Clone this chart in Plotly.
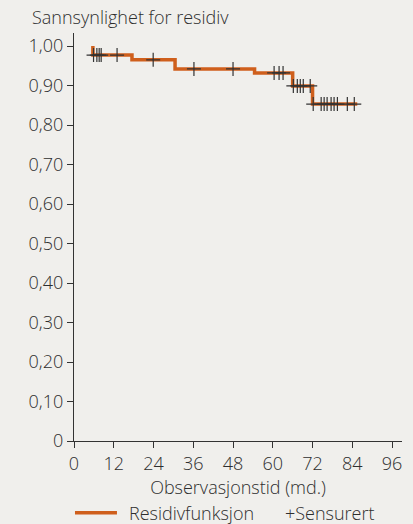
import plotly.graph_objects as go

# Kaplan-Meier style step data (months, probability)
step_times = [5.7, 5.7, 17.5, 30.5, 54.5, 66.0, 72.0, 85.5]
step_probs = [1.000, 0.977, 0.965, 0.942, 0.932, 0.899, 0.853, 0.853]

# censored observation times
censor_times = [5.9, 6.9, 7.6, 8.2, 13.0, 23.9, 36.2, 48.0,
                60.4, 61.9, 63.1, 66.2, 67.4, 68.3, 69.2, 71.3,
                72.2, 74.6, 75.5, 76.4, 77.6, 78.5, 79.5, 82.5, 84.6]

x_ticks = [0, 12, 24, 36, 48, 60, 72, 84, 96]
y_ticks = [0, 0.1, 0.2, 0.3, 0.4, 0.5, 0.6, 0.7, 0.8, 0.9, 1.0]
y_tick_labels = ["0", "0,10", "0,20", "0,30", "0,40", "0,50", "0,60", "0,70", "0,80", "0,90", "1,00"]


def surv_at(t):
    val = step_probs[0]
    for st, sp in zip(step_times[1:], step_probs[1:]):
        if t >= st:
            val = sp
    return val

censor_probs = [surv_at(t) for t in censor_times]

BG = "#f0efec"
ORANGE = "#cf5f1c"
TXT = "#2e2e2e"
FONT = "Open Sans"
FS = 18
FW = 300

fig = go.Figure()
fig.add_trace(go.Scatter(
    x=step_times, y=step_probs, mode="lines", line=dict(shape="hv", color=ORANGE, width=3.5),
    name="Residivfunksjon", showlegend=False,
))
fig.add_trace(go.Scatter(
    x=censor_times, y=censor_probs, mode="markers",
    marker=dict(symbol="cross-thin", size=10, line=dict(width=1.2, color="#333333")),
    name="Sensurert", showlegend=False,
))

font_main = dict(family=FONT, size=FS, color=TXT, weight=FW)

fig.update_layout(
    width=413, height=524,
    paper_bgcolor=BG, plot_bgcolor=BG,
    margin=dict(l=74, r=11, t=33, b=83, autoexpand=False),
    font=font_main,
    showlegend=False,
    shapes=[dict(type="line", xref="paper", yref="paper", x0=0.003, x1=0.131,
                 y0=-0.176, y1=-0.176, line=dict(color=ORANGE, width=3.5))],
    annotations=[
        dict(text="Sannsynlighet for residiv", xref="paper", yref="paper",
             x=-0.134, y=1.0, xanchor="left", yanchor="bottom", yshift=2,
             showarrow=False, font=font_main),
        dict(text="Residivfunksjon", xref="paper", yref="paper",
             x=0.162, y=-0.176, xanchor="left", yanchor="middle",
             showarrow=False, font=font_main),
        dict(text="+Sensurert", xref="paper", yref="paper",
             x=0.637, y=-0.176, xanchor="left", yanchor="middle",
             showarrow=False, font=font_main),
    ],
)
fig.update_xaxes(
    range=[0, 99], tickvals=x_ticks, showgrid=False, zeroline=False, automargin=False,
    showline=True, linecolor="#333333", linewidth=1.2,
    ticks="outside", ticklen=6, tickcolor="#333333", tickfont=font_main,
    title=dict(text="Observasjonstid (md.)", standoff=0, font=font_main),
)
fig.update_yaxes(
    range=[0, 1.033], tickvals=y_ticks, ticktext=y_tick_labels, showgrid=False, zeroline=False,
    automargin=False,
    showline=True, linecolor="#333333", linewidth=1.2,
    ticks="outside", ticklen=6, tickcolor="#333333", tickfont=font_main,
)

fig.write_html("out.html", config={"displayModeBar": False},
               post_script="document.body.style.margin='0';document.body.style.padding='0';")
